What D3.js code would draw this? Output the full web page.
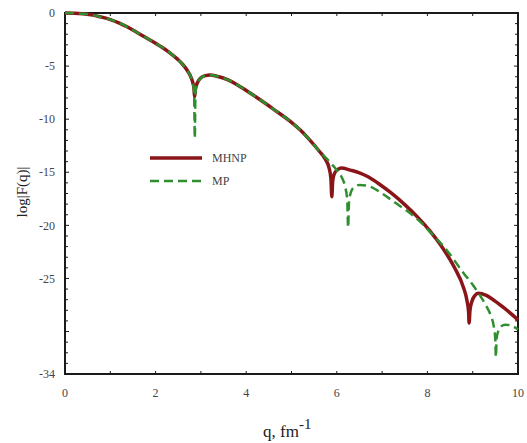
<!DOCTYPE html>
<html>
<head>
<meta charset="utf-8">
<script src="https://cdn.jsdelivr.net/npm/d3@7"></script>
<style>
  html, body { margin: 0; padding: 0; background: #fff; }
</style>
</head>
<body>
<div id="chart"></div>
<script>
const w = 527, h = 443;
const m = {l: 65, r: 9, t: 13, b: 69};

// q in fm^-1, log|F(q)|
const mhnpQ = [0, 0.2, 0.4, 0.62, 0.8, 1.0, 1.2, 1.37, 1.6, 1.8, 2.0, 2.1, 2.3, 2.47, 2.6, 2.69, 2.76, 2.8, 2.83, 2.85, 2.86, 2.875, 2.9, 2.95, 3.0, 3.1, 3.2, 3.35, 3.6, 3.8, 4.0, 4.3, 4.6, 5.0, 5.2, 5.4, 5.6, 5.75, 5.83, 5.87, 5.89, 5.91, 5.95, 6.02, 6.1, 6.3, 6.5, 6.7, 6.95, 7.2, 7.5, 7.8, 8.05, 8.3, 8.6, 8.8, 8.87, 8.91, 8.92, 8.94, 8.98, 9.05, 9.12, 9.3, 9.45, 9.7, 10];
const mhnpF = [0, -0.02, -0.08, -0.2, -0.38, -0.62, -0.95, -1.3, -1.85, -2.35, -2.85, -3.12, -3.7, -4.3, -4.85, -5.35, -5.85, -6.25, -6.7, -7.2, -7.9, -7.3, -6.8, -6.35, -6.1, -5.9, -5.85, -5.95, -6.3, -6.75, -7.3, -8.15, -9.05, -10.3, -11.05, -11.95, -12.95, -13.8, -14.6, -15.6, -17.3, -15.8, -15.1, -14.75, -14.6, -14.8, -15.05, -15.45, -16.15, -16.95, -18.05, -19.3, -20.5, -21.9, -24.0, -25.9, -27.0, -28.2, -29.2, -28.0, -27.2, -26.6, -26.4, -26.6, -27.0, -27.8, -28.9];

const mpQ = [0, 0.2, 0.4, 0.62, 0.8, 1.0, 1.2, 1.37, 1.6, 1.8, 2.0, 2.1, 2.3, 2.47, 2.6, 2.69, 2.76, 2.8, 2.83, 2.85, 2.857, 2.865, 2.88, 2.9, 2.95, 3.0, 3.1, 3.2, 3.35, 3.6, 3.8, 4.0, 4.3, 4.6, 5.0, 5.2, 5.4, 5.6, 5.75, 5.9, 6.0, 6.1, 6.18, 6.23, 6.25, 6.27, 6.31, 6.38, 6.5, 6.7, 7.0, 7.3, 7.6, 7.85, 8.1, 8.4, 8.8, 9.0, 9.16, 9.3, 9.4, 9.46, 9.5, 9.51, 9.53, 9.57, 9.63, 9.72, 9.85, 10];
const mpF = [0, -0.02, -0.08, -0.2, -0.38, -0.62, -0.95, -1.3, -1.85, -2.35, -2.85, -3.12, -3.7, -4.3, -4.85, -5.35, -5.85, -6.25, -6.75, -7.5, -9.5, -11.8, -7.6, -6.8, -6.35, -6.1, -5.9, -5.85, -5.95, -6.3, -6.75, -7.3, -8.15, -9.05, -10.3, -11.05, -11.95, -12.95, -13.6, -14.3, -14.8, -15.4, -16.3, -17.6, -20.2, -17.8, -16.9, -16.4, -16.2, -16.3, -17.0, -17.9, -18.8, -19.7, -20.8, -22.2, -24.5, -25.6, -26.6, -27.6, -28.5, -29.4, -30.8, -32.4, -30.6, -29.9, -29.5, -29.35, -29.45, -29.8];

const xTicks = [0, 2, 4, 6, 8, 10];
const yTicks = [0, -5, -10, -15, -20, -25, -34];
const seriesNames = ["MHNP", "MP"];

const mhnp = mhnpQ.map((q, i) => ({q, f: mhnpF[i]}));
const mp = mpQ.map((q, i) => ({q, f: mpF[i]}));

const x = d3.scaleLinear().domain([0, 10]).range([m.l, w - m.r]);
const y = d3.scaleLinear().domain([-34, 0]).range([h - m.b, m.t]);

const svg = d3.select("#chart").append("svg")
  .attr("width", w).attr("height", h)
  .attr("font-family", "'Liberation Serif', 'Times New Roman', serif")
  .style("display", "block");

const line = d3.line().x(d => x(d.q)).y(d => y(d.f)).curve(d3.curveMonotoneX);

// minor ticks, every unit, pointing inward
const axisCol = "#1a1a1a";
const ticks = svg.append("g").attr("stroke", axisCol).attr("stroke-width", 1);
d3.range(-34, 1).forEach(v => {
  const len = v % 5 === 0 ? 4 : 3;
  ticks.append("line").attr("x1", x(0)).attr("x2", x(0) + len).attr("y1", y(v)).attr("y2", y(v));
  ticks.append("line").attr("x1", x(10)).attr("x2", x(10) - len).attr("y1", y(v)).attr("y2", y(v));
});
d3.range(0, 11).forEach(v => {
  ticks.append("line").attr("x1", x(v)).attr("x2", x(v)).attr("y1", y(-34)).attr("y2", y(-34) - 3);
  ticks.append("line").attr("x1", x(v)).attr("x2", x(v)).attr("y1", y(0)).attr("y2", y(0) + 3);
});

// frame
svg.append("rect")
  .attr("x", x(0)).attr("y", y(0))
  .attr("width", x(10) - x(0)).attr("height", y(-34) - y(0))
  .attr("fill", "none").attr("stroke", axisCol).attr("stroke-width", 2);

// tick labels
svg.append("g").selectAll("text").data(yTicks).join("text")
  .attr("x", x(0) - 10).attr("y", d => y(d)).attr("dy", "0.35em")
  .attr("text-anchor", "end").attr("font-size", 12).attr("fill", "#444")
  .text(d => d);

svg.append("g").selectAll("text").data(xTicks).join("text")
  .attr("x", d => x(d)).attr("y", y(-34) + 23)
  .attr("text-anchor", "middle").attr("font-size", 12).attr("fill", "#444")
  .text(d => d);

// axis titles
const xt = svg.append("text").attr("x", 263).attr("y", 437).attr("font-size", 17).attr("fill", "#222");
xt.append("tspan").text("q, fm");
xt.append("tspan").attr("dy", -8).attr("font-size", 15).text("-1");

svg.append("text")
  .attr("transform", `translate(27,192) rotate(-90)`)
  .attr("text-anchor", "middle").attr("font-size", 15).attr("fill", "#222")
  .text("log|F(q)|");

// curves
svg.append("path").datum(mhnp).attr("d", line)
  .attr("fill", "none").attr("stroke", "#8a1519").attr("stroke-width", 3.5).attr("stroke-linejoin", "round");
svg.append("path").datum(mp).attr("d", line)
  .attr("fill", "none").attr("stroke", "#2f8f2f").attr("stroke-width", 2.5).attr("stroke-dasharray", "9,5");

// legend
const lg = svg.append("g");
lg.append("line").attr("x1", 150).attr("x2", 202).attr("y1", 158).attr("y2", 158)
  .attr("stroke", "#8a1519").attr("stroke-width", 3.5);
lg.append("line").attr("x1", 150).attr("x2", 202).attr("y1", 181).attr("y2", 181)
  .attr("stroke", "#2f8f2f").attr("stroke-width", 2.5).attr("stroke-dasharray", "9,5");
lg.selectAll("text").data(seriesNames).join("text")
  .attr("x", 212).attr("y", (d, i) => i ? 181 : 158).attr("dy", "0.35em")
  .attr("font-size", 12).attr("fill", "#444")
  .text(d => d);
</script>
</body>
</html>
